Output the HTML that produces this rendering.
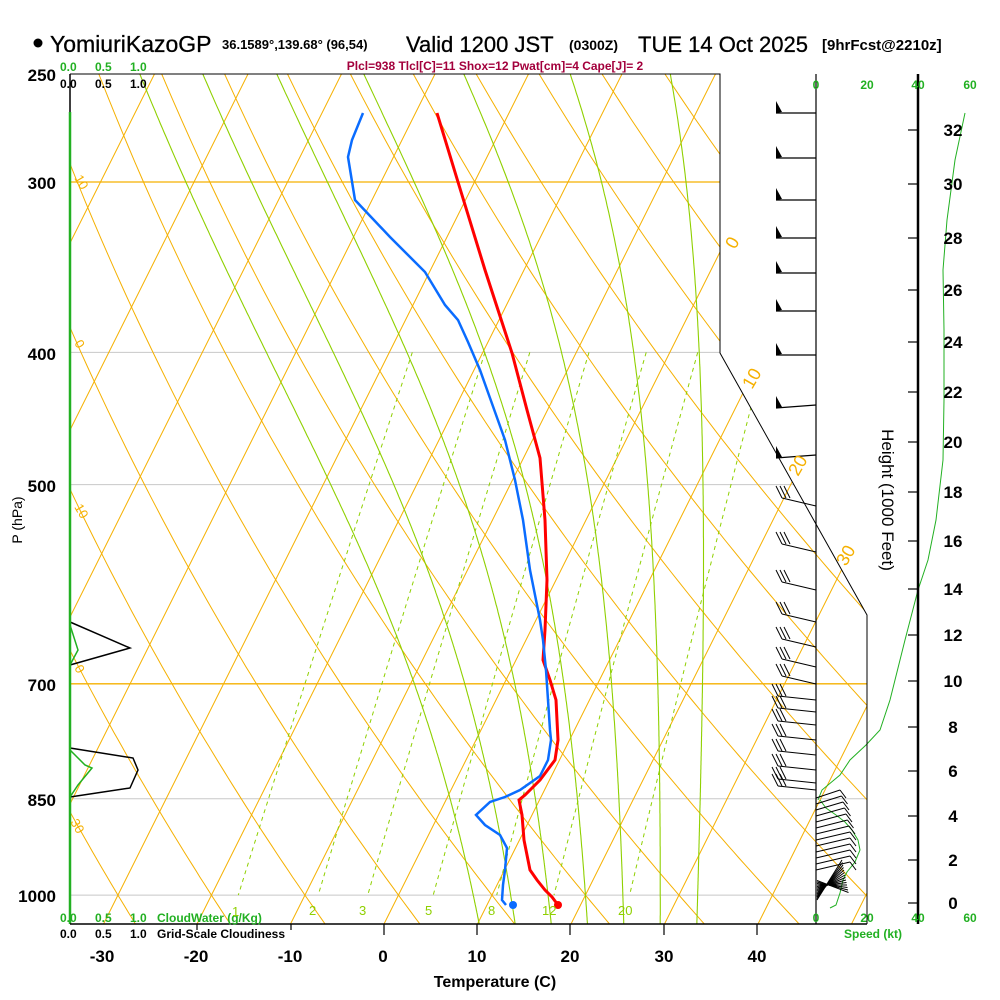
<!DOCTYPE html>
<html><head><meta charset="utf-8">
<style>
html,body{margin:0;padding:0;background:#fff;}
svg{display:block;font-family:"Liberation Sans",Arial,sans-serif;}
</style></head>
<body>
<svg id="s" xmlns="http://www.w3.org/2000/svg" width="1000" height="1000" viewBox="0 0 1000 1000">
<defs>
<clipPath id="cp"><polygon points="70,74 720,74 720,353 867,615 867,924 70,924"/></clipPath>
</defs>
<rect width="1000" height="1000" fill="#fff"/>
<g id="grid" clip-path="url(#cp)"></g>
<g id="data"></g>
<polyline points="70,74 720,74 720,353 867,615 867,924" fill="none" stroke="#000" stroke-width="1"/>
<line x1="70" y1="74" x2="70" y2="112" stroke="#000" stroke-width="1.5"/>
<line x1="70" y1="112" x2="70" y2="924" stroke="#22b022" stroke-width="2.5"/>
<line x1="70" y1="924" x2="867" y2="924" stroke="#000" stroke-width="1.5"/>
<line x1="816" y1="74" x2="816" y2="924" stroke="#000" stroke-width="1.2"/>
<line x1="918" y1="74" x2="918" y2="924" stroke="#000" stroke-width="2.5"/>
<g stroke="#000" stroke-width="1.2">
<line x1="197" y1="924" x2="197" y2="930"/><line x1="291" y1="924" x2="291" y2="930"/><line x1="384" y1="924" x2="384" y2="935"/><line x1="477" y1="924" x2="477" y2="935"/><line x1="570" y1="924" x2="570" y2="935"/><line x1="664" y1="924" x2="664" y2="935"/><line x1="757" y1="924" x2="757" y2="935"/>
</g>
<circle cx="38" cy="43" r="4.5" fill="#000"/>
<text x="50" y="52" font-size="23" stroke="#000" stroke-width="0.3">YomiuriKazoGP</text>
<text x="222" y="49" font-size="13" font-weight="bold">36.1589°,139.68° (96,54)</text>
<text x="406" y="52" font-size="22" stroke="#000" stroke-width="0.3">Valid 1200 JST</text>
<text x="569" y="50" font-size="14" font-weight="bold">(0300Z)</text>
<text x="638" y="52" font-size="22" stroke="#000" stroke-width="0.3">TUE 14 Oct 2025</text>
<text x="822" y="50" font-size="15" font-weight="bold">[9hrFcst@2210z]</text>
<text x="495" y="70" font-size="12" font-weight="bold" fill="#a3003c" text-anchor="middle">Plcl=938 Tlcl[C]=11 Shox=12 Pwat[cm]=4 Cape[J]= 2</text>
<g font-size="12" font-weight="bold" fill="#22b022"><text x="60" y="71">0.0</text><text x="95" y="71">0.5</text><text x="130" y="71">1.0</text></g>
<g font-size="12" font-weight="bold" fill="#000"><text x="60" y="88">0.0</text><text x="95" y="88">0.5</text><text x="130" y="88">1.0</text></g>
<g font-size="12" font-weight="bold" fill="#22b022"><text x="60" y="922">0.0</text><text x="95" y="922">0.5</text><text x="130" y="922">1.0</text><text x="157" y="922">CloudWater (g/Kg)</text></g>
<g font-size="12" font-weight="bold" fill="#000"><text x="60" y="938">0.0</text><text x="95" y="938">0.5</text><text x="130" y="938">1.0</text><text x="157" y="938">Grid-Scale Cloudiness</text></g>
<g font-size="17" font-weight="bold" text-anchor="end" fill="#000">
<text x="56" y="81">250</text><text x="56" y="189">300</text><text x="56" y="360">400</text><text x="56" y="492">500</text><text x="56" y="691">700</text><text x="56" y="806">850</text><text x="56" y="902">1000</text>
</g>
<text transform="translate(22,520) rotate(-90)" font-size="14" text-anchor="middle">P (hPa)</text>
<g font-size="17" font-weight="bold" text-anchor="middle">
<text x="102" y="962">-30</text><text x="196" y="962">-20</text><text x="290" y="962">-10</text><text x="383" y="962">0</text><text x="477" y="962">10</text><text x="570" y="962">20</text><text x="664" y="962">30</text><text x="757" y="962">40</text>
</g>
<text x="495" y="987" font-size="16" font-weight="bold" text-anchor="middle">Temperature (C)</text>
<g font-size="18" fill="#f5b000">
<text transform="translate(735,250) rotate(-60)">0</text>
<text transform="translate(752,390) rotate(-60)">10</text>
<text transform="translate(798,477) rotate(-60)">20</text>
<text transform="translate(846,567) rotate(-60)">30</text>
</g>
<g font-size="13" fill="#f5b000">
<text transform="translate(74,178) rotate(60)">10</text>
<text transform="translate(74,343) rotate(60)">0</text>
<text transform="translate(74,507) rotate(60)">10</text>
<text transform="translate(74,668) rotate(60)">0</text>
<text transform="translate(70,822) rotate(60)">30</text>
</g>
<g font-size="13" fill="#8fd000">
<text x="232" y="916">1</text><text x="309" y="915">2</text><text x="359" y="915">3</text><text x="425" y="915">5</text><text x="488" y="915">8</text><text x="542" y="915">12</text><text x="618" y="915">20</text>
</g>
<g font-size="12" font-weight="bold" fill="#22b022" text-anchor="middle">
<text x="816" y="89">0</text><text x="867" y="89">20</text><text x="918" y="89">40</text><text x="970" y="89">60</text>
<text x="816" y="922">0</text><text x="867" y="922">20</text><text x="918" y="922">40</text><text x="970" y="922">60</text>
<text x="873" y="938">Speed (kt)</text>
</g>
<g id="hax"></g>
<g font-size="17" font-weight="bold" text-anchor="middle">
<text x="953" y="136">32</text><text x="953" y="190">30</text><text x="953" y="244">28</text><text x="953" y="296">26</text><text x="953" y="348">24</text><text x="953" y="398">22</text><text x="953" y="448">20</text><text x="953" y="498">18</text><text x="953" y="547">16</text><text x="953" y="595">14</text><text x="953" y="641">12</text><text x="953" y="687">10</text><text x="953" y="733">8</text><text x="953" y="777">6</text><text x="953" y="822">4</text><text x="953" y="866">2</text><text x="953" y="909">0</text>
</g>
<text transform="translate(882,500) rotate(90)" font-size="17" text-anchor="middle">Height (1000 Feet)</text>
<script>
(function(){
var NS="http://www.w3.org/2000/svg";
function yOf(p){return 74+592.3*Math.log(p/250);}
function xOf(T,y){return 384+9.35*T+0.5*(924-y);}
function el(parent,tag,attrs){var e=document.createElementNS(NS,tag);for(var k in attrs)e.setAttribute(k,attrs[k]);parent.appendChild(e);return e;}
var g=document.getElementById('grid');
function poly(parent,pts,stroke,w,dash){var a={points:pts.map(function(q){return q[0].toFixed(1)+','+q[1].toFixed(1)}).join(' '),fill:'none',stroke:stroke,'stroke-width':w};if(dash)a['stroke-dasharray']=dash;return el(parent,'polyline',a);}
[[400,'#c8c8c8',1],[500,'#c8c8c8',1],[850,'#c8c8c8',1],[1000,'#c8c8c8',1],[300,'#f5b000',1.3],[700,'#f5b000',1.3]].forEach(function(a){var y=yOf(a[0]);poly(g,[[70,y],[870,y]],a[1],a[2]);});
for(var T=-140;T<=60;T+=10){poly(g,[[xOf(T,924),924],[xOf(T,74),74]],'#f5b000',1);}
for(var th=-80;th<=220;th+=10){var pts=[];for(var p=240;p<=1060;p+=10){var Tk=(th+273.15)*Math.pow(p/1000,0.286)-273.15;var y=yOf(p);pts.push([xOf(Tk,y),y]);}poly(g,pts,'#f5b000',1);}
function es(T){return 6.112*Math.exp(17.67*T/(T+243.5));}
function dTdp(T,p){var Tk=T+273.15;var e=es(T);var rs=0.622*e/(p-e);var Lv=2.5e6,Rd=287,cp=1004;return (Rd*Tk+Lv*rs)/(p*(cp+Lv*Lv*rs*0.622/(Rd*Tk*Tk)));}
for(var T0=8;T0<=32;T0+=4){var T=T0,p=1000;var up=[];while(p>=240){var y=yOf(p);up.push([xOf(T,y),y]);T-=dTdp(T,p)*2;p-=2;}T=T0;p=1000;var dn=[];while(p<=1060){var y2=yOf(p);dn.push([xOf(T,y2),y2]);T+=dTdp(T,p)*2;p+=2;}poly(g,dn.reverse().concat(up),'#8fd000',1.1);}
[1,2,3,5,8,12,20].forEach(function(w){var pts=[];for(var p=400;p<=1000;p+=10){var e=w*p/(622+w);var l=Math.log(e/6.112);var Td=243.5*l/(17.67-l);var y=yOf(p);pts.push([xOf(Td,y),y]);}poly(g,pts,'#8fd000',1,'4,4');});
var d=document.getElementById('data');
poly(d,[[70,622],[130,648],[70,665]],'#000',1.5);
poly(d,[[70,625],[78,650],[70,665]],'#22b022',1.5);
poly(d,[[70,748],[133,758],[138,770],[130,788],[70,797]],'#000',1.5);
poly(d,[[70,750],[85,765],[92,768],[78,785],[70,797]],'#22b022',1.5);
var tp=[[437,113],[458,182],[485,270],[512,353],[527,410],[540,458],[545,520],[547,580],[545,630],[543,660],[550,680],[556,700],[558,740],[555,760],[540,780],[525,795],[519,800],[522,815],[524,840],[530,870],[537,880],[545,890],[552,897],[558,905]];
poly(d,tp,'#ff0000',3);
el(d,'circle',{cx:558,cy:905,r:4,fill:'#ff0000'});
var dp=[[363,113],[352,140],[348,157],[355,200],[390,237],[425,272],[445,305],[458,320],[468,342],[480,370],[490,398],[505,440],[515,480],[523,520],[530,570],[536,600],[540,620],[543,640],[546,670],[548,700],[550,730],[551,740],[548,760],[540,776],[520,790],[505,797],[490,802],[476,815],[485,825],[500,835],[507,848],[505,870],[503,885],[502,900],[506,905]];
poly(d,dp,'#0a6cff',2.5);
el(d,'circle',{cx:513,cy:905,r:4,fill:'#0a6cff'});
var h=document.getElementById('hax');
[130,184,238,290,342,392,442,492,541,589,635,681,727,771,816,860,903].forEach(function(y){el(h,'line',{x1:908,y1:y,x2:918,y2:y,stroke:'#000','stroke-width':1.2});});
poly(d,[[965,113],[955,160],[947,220],[943,270],[944,330],[944,400],[943,460],[936,520],[928,560],[918,590],[905,640],[890,700],[880,730],[866,745],[850,760],[840,775],[822,790],[818,800]],'#22b022',1);
poly(d,[[820,800],[826,808],[836,815],[845,822],[852,830],[858,840],[860,850],[855,862],[847,872],[843,880],[840,893],[836,905],[830,908]],'#22b022',1);
[113,158,200,238,273,311,355,405,455].forEach(function(y,i){var tx=776,ty=y-(i<7?3:0);el(d,'line',{x1:816,y1:y,x2:tx,y2:ty+3,stroke:'#000','stroke-width':1.2});el(d,'polygon',{points:tx+','+(ty+3)+' '+(tx)+','+(ty-9)+' '+(tx+6)+','+(ty+2),fill:'#000'});});
[506,552,590,622,647,667,684,700,712,725,740,755,770,783,790].forEach(function(y,i){var tx=782-(i>6?4:0),ty=y-8+(i>6?4:0);el(d,'line',{x1:816,y1:y,x2:tx,y2:ty,stroke:'#000','stroke-width':1.1});for(var k=0;k<3;k++){var bx=tx+k*4;el(d,'line',{x1:bx,y1:ty,x2:bx-6,y2:ty-12,stroke:'#000','stroke-width':1});}});
for(var y=798;y<=870;y+=6){var ex=840+Math.min(10,(y-798)/4),ey=y-8;el(d,'line',{x1:816,y1:y,x2:ex,y2:ey,stroke:'#000','stroke-width':1});el(d,'line',{x1:ex,y1:ey,x2:ex+6,y2:ey+8,stroke:'#000','stroke-width':1});}
for(var k=0;k<14;k++){var ey=860+k*2.5;el(d,'line',{x1:817,y1:900-k*1.5,x2:842+k*0.5,y2:ey,stroke:'#000','stroke-width':1});}
})();
</script>
</svg>
</body></html>
